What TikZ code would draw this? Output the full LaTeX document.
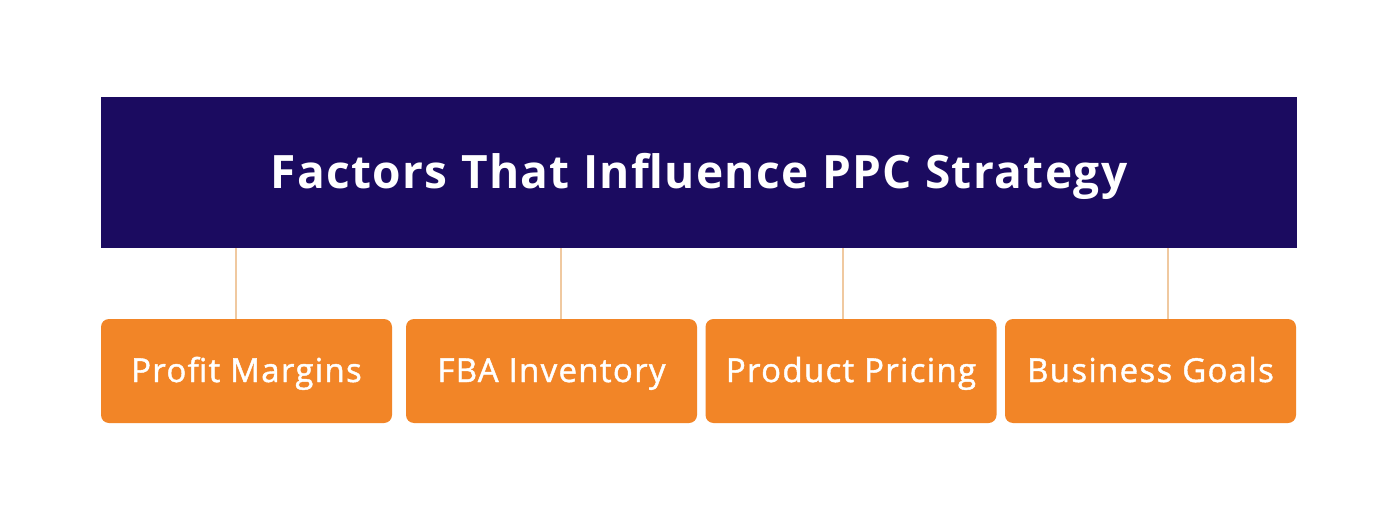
\documentclass[tikz,border=0pt]{standalone}
\usepackage{fontspec}
\setmainfont{Open Sans}
\newfontfamily\titlefont[LetterSpace=3]{Open Sans Bold}
\newfontfamily\boxfont[LetterSpace=4,FakeBold=1.3]{Open Sans}
\begin{document}
\begin{tikzpicture}[x=1pt,y=-1pt,
  titlebox/.style={fill=navy, draw=none, minimum width=1196pt, minimum height=151pt, inner sep=0pt, text=white, text height=34pt, text depth=3pt, font=\fontsize{46}{50}\titlefont},
  factorbox/.style={fill=orng, draw=none, rounded corners=8pt, minimum width=291pt, minimum height=104pt, inner sep=0pt, text=white, text height=25pt, text depth=3pt, font=\fontsize{33}{36}\boxfont},
  link/.style={draw=linkc, line width=1.2pt}]
\definecolor{navy}{HTML}{1B0B60}
\definecolor{orng}{HTML}{F28527}
\definecolor{linkc}{HTML}{F0C9A0}
\useasboundingbox (0,0) rectangle (1400,508);
\fill[white] (0,0) rectangle (1400,508);
\node[titlebox] (title) at (699,172.5) {Factors That Influence PPC Strategy};
\node[factorbox] (b1) at (246.5,371) {Profit Margins};
\node[factorbox] (b2) at (551.5,371) {FBA Inventory};
\node[factorbox] (b3) at (851,371) {Product Pricing};
\node[factorbox] (b4) at (1150.5,371) {Business Goals};
\coordinate (c1) at (236,0);
\coordinate (c2) at (561,0);
\coordinate (c3) at (843,0);
\coordinate (c4) at (1168,0);
\foreach \i in {1,2,3,4}{
  \draw[link] (title.south -| c\i) -- (b\i.north -| c\i);
}
\end{tikzpicture}
\end{document}
